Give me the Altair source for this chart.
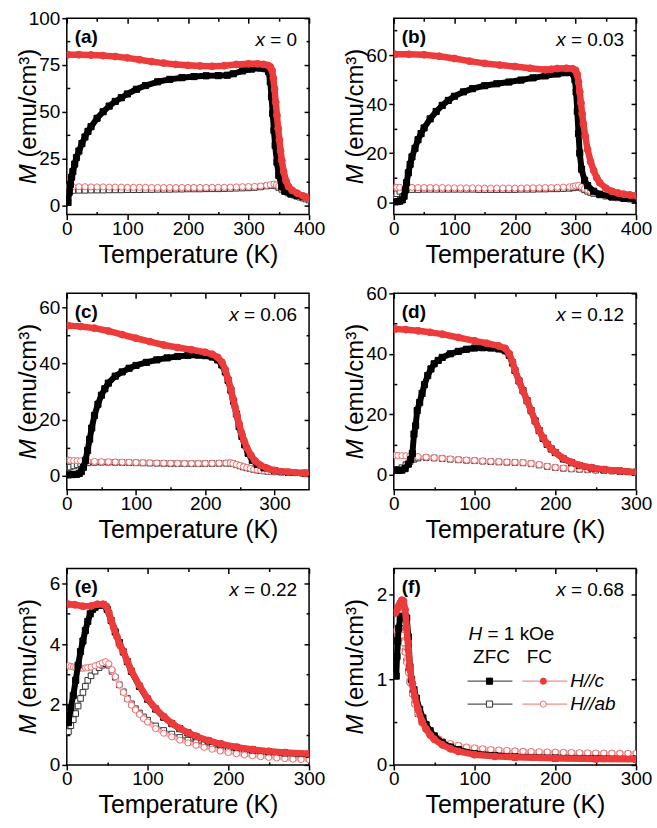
import altair as alt
import pandas as pd

FONT = "Liberation Sans"
W, H = 243, 197
RED = "#ec3b3b"
PINK = "#f06a6a"

# ---------------- data ----------------
# (a) x = 0
a_zfc_c_T = [2, 4, 6, 8, 10, 13, 16, 20, 25, 30, 35, 40, 50, 60, 70, 80, 90, 100, 115, 130, 150, 170, 190, 210, 230, 250, 265, 275, 290, 305, 320, 328, 333, 336, 338, 340, 342, 344, 347, 350, 355, 360, 370, 380, 390, 400]
a_zfc_c_M = [1.5, 7, 11, 15, 18, 22, 25.5, 29, 33, 36.5, 39.5, 42, 46.5, 50, 53, 55.5, 57.5, 59.5, 62, 64, 66, 67.3, 68.2, 68.8, 69.2, 69.3, 69.5, 70.3, 71.8, 72.8, 73.3, 73, 71.5, 66, 58, 49, 40, 32, 23, 16, 10, 7.5, 6, 5.2, 4.6, 4.2]
a_fc_c_T = [2, 20, 40, 60, 80, 100, 120, 140, 160, 180, 200, 220, 240, 260, 280, 300, 315, 325, 332, 336, 339, 341, 343, 345, 347, 349, 351, 353, 355, 358, 362, 366, 372, 380, 390, 400]
a_fc_c_M = [80.5, 80.5, 80.3, 80, 79.5, 78.8, 77.8, 76.8, 76, 75.3, 74.8, 74.5, 74.3, 74.6, 75.3, 75.6, 75.6, 75.3, 74.8, 74, 72, 68, 62, 55, 48, 41, 35, 29, 24, 18, 13, 10, 8, 6.5, 5, 3.8]
a_ab_T = [2, 5, 10, 20, 30, 40, 50, 60, 70, 80, 90, 100, 110, 120, 130, 140, 150, 160, 170, 180, 190, 200, 210, 220, 230, 240, 250, 260, 270, 280, 290, 300, 310, 320, 330, 336, 342, 346, 350, 355, 360, 365, 370, 375, 380, 385, 390, 395, 400]
a_zfc_ab_M = [7, 7.6, 7.9, 8, 8, 8.1, 8.1, 8.1, 8.2, 8.2, 8.2, 8.3, 8.3, 8.3, 8.4, 8.4, 8.5, 8.5, 8.5, 8.6, 8.6, 8.7, 8.7, 8.7, 8.8, 8.8, 8.8, 8.9, 9, 9.1, 9.2, 9.3, 9.5, 9.8, 10.3, 10.6, 10.8, 10.3, 9.5, 8.5, 7.5, 6.6, 6, 5.4, 4.8, 4.3, 3.8, 3.3, 2.8]
a_fc_ab_M = [10, 10, 9.9, 9.9, 9.9, 9.8, 9.8, 9.8, 9.7, 9.7, 9.7, 9.6, 9.6, 9.6, 9.6, 9.5, 9.5, 9.5, 9.5, 9.5, 9.5, 9.5, 9.5, 9.5, 9.5, 9.6, 9.6, 9.6, 9.7, 9.8, 9.9, 10, 10.1, 10.3, 10.7, 11, 11.3, 10.9, 10.2, 9.2, 8.3, 7.4, 6.7, 6, 5.4, 4.9, 4.4, 3.9, 3.5]

# (b) x = 0.03
b_zfc_c_T = [2, 6, 10, 14, 17, 19, 21, 24, 27, 30, 35, 40, 45, 50, 60, 70, 80, 90, 100, 115, 130, 150, 170, 190, 210, 230, 250, 270, 285, 293, 297, 299, 301, 303, 305, 307, 310, 315, 320, 330, 340, 360, 380, 400]
b_zfc_c_M = [0.2, 0.3, 0.5, 1, 2.5, 5, 8, 12, 15.5, 18.5, 22, 25.5, 28, 30.3, 34, 37, 39.5, 41.5, 43.2, 45, 46.3, 47.5, 48.3, 49, 49.8, 50.7, 51.5, 52.3, 52.8, 53, 52.3, 50, 45, 37, 28, 20, 13.5, 9, 6.8, 4.5, 3.3, 2.2, 1.6, 1.2]
b_fc_c_T = [2, 25, 50, 75, 100, 125, 150, 175, 200, 225, 250, 260, 270, 285, 295, 300, 303, 305, 307, 309, 311, 313, 316, 320, 325, 330, 335, 340, 350, 360, 370, 380, 390, 400]
b_fc_c_M = [60.3, 60.3, 60.1, 59.5, 58.6, 57.5, 56.6, 55.9, 55.3, 54.6, 54, 54.2, 54.5, 54.6, 54.4, 53.8, 52, 49, 45, 40.5, 36, 32, 27, 21.5, 16.5, 13, 10, 8, 5.8, 4.5, 3.8, 3.3, 3, 2.7]
b_ab_T = [2, 5, 10, 20, 30, 40, 50, 60, 70, 80, 90, 100, 110, 120, 130, 140, 150, 160, 170, 180, 190, 200, 210, 220, 230, 240, 250, 260, 270, 280, 290, 296, 300, 305, 310, 315, 320, 325, 330, 340, 350, 360, 370, 380, 390, 400]
b_zfc_ab_M = [2.5, 3.5, 4.5, 5.1, 5.2, 5.2, 5.3, 5.3, 5.3, 5.3, 5.3, 5.3, 5.3, 5.3, 5.3, 5.2, 5.2, 5.2, 5.2, 5.2, 5.2, 5.2, 5.3, 5.3, 5.3, 5.4, 5.4, 5.5, 5.5, 5.6, 5.7, 5.9, 6.1, 6.3, 5.8, 5.1, 4.5, 4, 3.6, 3, 2.5, 2.1, 1.8, 1.5, 1.3, 1.1]
b_fc_ab_M = [6.1, 6.1, 6.1, 6.1, 6.1, 6, 6, 6, 6, 6, 5.9, 5.9, 5.9, 5.9, 5.9, 5.8, 5.8, 5.8, 5.8, 5.8, 5.8, 5.8, 5.8, 5.9, 5.9, 5.9, 6, 6, 6.1, 6.2, 6.3, 6.5, 6.7, 6.9, 6.3, 5.6, 5, 4.5, 4, 3.3, 2.7, 2.3, 2, 1.7, 1.5, 1.4]

# (c) x = 0.06
c_zfc_c_T = [2, 8, 14, 18, 21, 24, 27, 30, 33, 36, 40, 45, 50, 55, 60, 70, 80, 90, 100, 115, 130, 145, 160, 175, 190, 200, 210, 218, 224, 229, 233, 237, 241, 245, 249, 253, 257, 262, 268, 275, 285, 300, 320, 345]
c_zfc_c_M = [0.3, 0.4, 0.5, 0.8, 1.5, 3, 5.5, 9, 13, 17, 21.5, 25.5, 28.7, 31, 33, 35.5, 37, 38.3, 39.3, 40.4, 41.3, 42, 42.5, 42.9, 43, 42.8, 42.3, 41.3, 39.5, 37, 34, 30.5, 26.5, 22, 17.5, 14, 11, 8, 5.5, 4, 2.8, 1.8, 1.2, 0.8]
c_fc_c_T = [2, 20, 40, 60, 80, 100, 120, 140, 160, 180, 200, 210, 218, 224, 229, 233, 237, 240, 243, 246, 249, 252, 256, 260, 266, 272, 280, 290, 300, 320, 345]
c_fc_c_M = [53.5, 53.2, 52.6, 51.6, 50.3, 49, 47.8, 46.6, 45.7, 44.9, 44, 43.3, 42.2, 40.5, 37.8, 34.5, 31, 27.5, 24.5, 21.5, 18.5, 15.5, 12.5, 10, 7.3, 5.3, 3.7, 2.6, 1.9, 1.3, 0.9]
c_ab_T = [2, 5, 10, 15, 20, 30, 40, 50, 60, 70, 80, 90, 100, 110, 120, 130, 140, 150, 160, 170, 180, 190, 200, 210, 220, 230, 236, 240, 245, 250, 255, 260, 265, 270, 275, 280, 285, 290, 295, 300, 310, 320, 330, 340, 345]
c_zfc_ab_M = [2.8, 3.1, 3.5, 3.9, 4.3, 4.6, 4.75, 4.8, 4.8, 4.75, 4.7, 4.65, 4.6, 4.55, 4.5, 4.45, 4.4, 4.35, 4.32, 4.3, 4.3, 4.3, 4.32, 4.35, 4.4, 4.45, 4.5, 4.3, 3.9, 3.5, 3.1, 2.8, 2.5, 2.25, 2, 1.85, 1.7, 1.58, 1.48, 1.38, 1.25, 1.15, 1.05, 0.95, 0.95]
c_fc_ab_M = [5.6, 5.5, 5.4, 5.35, 5.3, 5.2, 5.1, 5, 4.95, 4.9, 4.85, 4.8, 4.7, 4.65, 4.6, 4.55, 4.5, 4.45, 4.42, 4.4, 4.4, 4.4, 4.42, 4.45, 4.5, 4.55, 4.6, 4.4, 4, 3.6, 3.2, 2.9, 2.6, 2.35, 2.1, 1.95, 1.8, 1.65, 1.55, 1.45, 1.3, 1.2, 1.1, 1, 1]

# (d) x = 0.12
d_zfc_c_T = [2, 6, 10, 14, 18, 21, 23, 25, 27, 29, 32, 35, 38, 42, 46, 50, 55, 60, 70, 80, 90, 100, 110, 120, 130, 138, 143, 147, 150, 155, 160, 165, 170, 175, 180, 185, 190, 195, 200, 210, 220, 230, 245, 260, 280, 300]
d_zfc_c_M = [1.5, 1.4, 1.5, 2, 3.5, 5, 7, 13.4, 16.2, 21.2, 23.9, 26.9, 29.8, 32.8, 35, 36.7, 37.8, 38.8, 40, 40.8, 41.5, 41.9, 42, 41.9, 41.6, 41, 39.5, 37, 34.5, 31, 27.8, 24.5, 21.2, 17.8, 14.6, 12, 10, 8.5, 7.3, 5.2, 4, 3, 2.2, 1.7, 1.2, 0.8]
d_fc_c_T = [2, 15, 30, 45, 60, 80, 100, 115, 130, 138, 143, 147, 150, 155, 160, 165, 170, 175, 180, 185, 190, 195, 200, 210, 220, 230, 245, 260, 280, 300]
d_fc_c_M = [48.2, 48, 47.6, 47.1, 46.5, 45.4, 44.3, 43.5, 42.6, 41.8, 40, 37.3, 34.6, 31, 27.8, 24.5, 21.2, 17.8, 14.6, 12.2, 10.1, 8.6, 7.4, 5.4, 4.1, 3.1, 2.3, 1.7, 1.2, 0.8]
d_ab_T = [2, 5, 10, 15, 20, 25, 30, 40, 50, 60, 70, 80, 90, 100, 110, 120, 130, 140, 150, 160, 170, 180, 190, 200, 210, 220, 230, 240, 250, 260, 270, 280, 290, 300]
d_zfc_ab_M = [1.5, 1.7, 2.3, 3.3, 4.3, 5.1, 5.5, 5.6, 5.5, 5.3, 5.1, 4.9, 4.75, 4.6, 4.45, 4.3, 4.2, 4.1, 4, 3.9, 3.6, 3.2, 2.7, 2.3, 2.1, 1.9, 1.75, 1.6, 1.5, 1.35, 1.2, 1.05, 0.9, 0.8]
d_fc_ab_M = [6.4, 6.35, 6.3, 6.25, 6.2, 6.1, 6, 5.8, 5.6, 5.4, 5.2, 5, 4.85, 4.7, 4.55, 4.4, 4.3, 4.2, 4.1, 4, 3.7, 3.3, 2.8, 2.4, 2.2, 2, 1.85, 1.7, 1.6, 1.45, 1.3, 1.15, 1, 0.9]

# (e) x = 0.22
e_zfc_c_T = [2, 5, 8, 11, 14, 17, 20, 23, 26, 29, 32, 35, 40, 45, 50, 55, 60, 65, 70, 75, 80, 90, 100, 110, 120, 130, 140, 150, 160, 175, 190, 210, 230, 250, 270, 300]
e_zfc_c_M = [1.4, 1.9, 2.3, 2.8, 3.3, 3.75, 4.1, 4.45, 4.75, 5, 5.15, 5.22, 5.28, 5.3, 5.15, 4.78, 4.4, 4.05, 3.74, 3.42, 3.1, 2.6, 2.18, 1.85, 1.58, 1.37, 1.2, 1.06, 0.94, 0.8, 0.69, 0.58, 0.5, 0.44, 0.4, 0.35]
e_fc_c_T = [2, 10, 20, 30, 38, 45, 49, 52, 55, 58, 62, 66, 70, 75, 80, 90, 100, 110, 120, 130, 140, 150, 160, 175, 190, 210, 230, 250, 270, 300]
e_fc_c_M = [5.32, 5.3, 5.25, 5.26, 5.32, 5.32, 5.25, 5.05, 4.8, 4.55, 4.25, 3.95, 3.75, 3.43, 3.12, 2.63, 2.2, 1.87, 1.6, 1.38, 1.21, 1.07, 0.95, 0.81, 0.7, 0.59, 0.51, 0.45, 0.41, 0.37]
e_ab_T = [2, 5, 8, 11, 14, 17, 20, 23, 26, 30, 35, 40, 44, 48, 52, 56, 60, 65, 70, 75, 80, 85, 90, 95, 100, 110, 120, 130, 140, 150, 160, 170, 180, 190, 200, 210, 220, 230, 240, 250, 260, 270, 280, 290, 300]
e_zfc_ab_M = [1.1, 1.3, 1.5, 1.7, 1.95, 2.2, 2.4, 2.6, 2.8, 2.95, 3.1, 3.22, 3.3, 3.35, 3.3, 3.1, 2.9, 2.65, 2.42, 2.2, 2.02, 1.86, 1.72, 1.59, 1.48, 1.29, 1.14, 1.02, 0.91, 0.82, 0.74, 0.67, 0.61, 0.55, 0.5, 0.46, 0.42, 0.38, 0.35, 0.32, 0.3, 0.27, 0.25, 0.23, 0.21]
e_fc_ab_M = [3.28, 3.26, 3.24, 3.22, 3.21, 3.2, 3.2, 3.21, 3.22, 3.24, 3.28, 3.33, 3.38, 3.42, 3.35, 3.15, 2.92, 2.65, 2.4, 2.18, 1.98, 1.82, 1.67, 1.53, 1.42, 1.2, 1.05, 0.93, 0.82, 0.73, 0.65, 0.58, 0.52, 0.46, 0.41, 0.37, 0.33, 0.3, 0.27, 0.25, 0.23, 0.21, 0.19, 0.18, 0.17]

# (f) x = 0.68
f_zfc_c_T = [3, 4, 5, 6, 8, 10, 12, 14, 16, 18, 20, 22, 25, 28, 32, 36, 40, 45, 50, 60, 70, 80, 100, 125, 150, 200, 250, 300]
f_zfc_c_M = [1.04, 1.27, 1.45, 1.6, 1.72, 1.74, 1.74, 1.74, 1.72, 1.5, 1.15, 1.0, 0.88, 0.78, 0.65, 0.55, 0.47, 0.4, 0.34, 0.26, 0.21, 0.18, 0.13, 0.11, 0.095, 0.08, 0.075, 0.07]
f_fc_c_T = [2, 4, 6, 8, 10, 12, 14, 16, 18, 20, 23, 26, 30, 35, 40, 45, 50, 60, 70, 80, 100, 125, 150, 200, 250, 300]
f_fc_c_M = [1.78, 1.82, 1.86, 1.9, 1.93, 1.92, 1.82, 1.6, 1.35, 1.12, 0.95, 0.8, 0.65, 0.51, 0.42, 0.35, 0.3, 0.235, 0.19, 0.158, 0.12, 0.1, 0.09, 0.078, 0.07, 0.066]
f_ab_T = [2, 4, 6, 8, 10, 12, 14, 16, 18, 20, 23, 26, 30, 35, 40, 45, 50, 55, 60, 70, 80, 90, 100, 110, 120, 130, 140, 150, 160, 170, 180, 190, 200, 210, 220, 230, 240, 250, 260, 270, 280, 290, 300]
f_zfc_ab_M = [1.05, 1.38, 1.55, 1.6, 1.55, 1.45, 1.33, 1.22, 1.1, 0.98, 0.84, 0.72, 0.6, 0.5, 0.43, 0.37, 0.33, 0.3, 0.27, 0.24, 0.22, 0.2, 0.19, 0.18, 0.17, 0.165, 0.16, 0.155, 0.15, 0.148, 0.145, 0.142, 0.14, 0.138, 0.136, 0.134, 0.132, 0.13, 0.129, 0.128, 0.127, 0.126, 0.125]
f_fc_ab_M = [1.57, 1.57, 1.57, 1.56, 1.52, 1.43, 1.32, 1.2, 1.08, 0.96, 0.83, 0.71, 0.6, 0.5, 0.43, 0.38, 0.34, 0.31, 0.28, 0.25, 0.23, 0.21, 0.2, 0.19, 0.18, 0.175, 0.17, 0.165, 0.16, 0.157, 0.155, 0.152, 0.15, 0.148, 0.146, 0.144, 0.142, 0.14, 0.139, 0.138, 0.137, 0.136, 0.135]

# ---------------- helpers ----------------
ONE = pd.DataFrame({"k": [0]})
CW = {"x": .5, " ": .278, "=": .584, ".": .278, "H": .722, "M": .833}
for _d in "0123456789":
    CW[_d] = .556


def tw(s, fs):
    return sum(CW.get(ch, .556) for ch in s) * fs


def txt(text, x, y, size=19, italic=False, bold=False, align="left",
        baseline="alphabetic", angle=None, color="black"):
    kw = dict(text=text, font=FONT, fontSize=size, align=align,
              baseline=baseline, color=color)
    if italic:
        kw["fontStyle"] = "italic"
    if bold:
        kw["fontWeight"] = "bold"
    if angle is not None:
        kw["angle"] = angle
    return alt.Chart(ONE).mark_text(**kw).encode(x=alt.value(x), y=alt.value(y))


STYLE = {
    "zfc_ab": dict(shape="square", fill="white", stroke="#333333", line="#a0a0a0", lw=3.5, size=32),
    "fc_ab": dict(shape="circle", fill="white", stroke=PINK, line="#f7b5b5", lw=4, size=38),
    "zfc_c": dict(shape="square", fill="black", stroke="black", line="black", lw=6, size=38),
    "fc_c": dict(shape="circle", fill=RED, stroke=RED, line=RED, lw=6.5, size=48),
}


def panel(series, xdom, xmaj, xmin, ydom, ymaj, ymin, label, xval, legend=False):
    xs = alt.Scale(domain=xdom, nice=False, zero=False)
    ys = alt.Scale(domain=ydom, nice=False, zero=False)
    layers = []
    for key in ["zfc_ab", "fc_ab", "zfc_c", "fc_c"]:
        T, M = series[key]
        df = pd.DataFrame({"T": T, "M": M})
        st = STYLE[key]
        enc = dict(x=alt.X("T:Q", scale=xs, axis=None), y=alt.Y("M:Q", scale=ys, axis=None))
        layers.append(alt.Chart(df).mark_line(color=st["line"], strokeWidth=st["lw"],
                                              strokeCap="round", strokeJoin="round", clip=True).encode(**enc))
        layers.append(alt.Chart(df).mark_point(shape=st["shape"], filled=True, fill=st["fill"],
                                               stroke=st["stroke"], strokeWidth=1, size=st["size"],
                                               opacity=1, clip=True).encode(**enc))

    ref = pd.DataFrame({"T": series["fc_c"][0], "M": series["fc_c"][1]})

    def axl(xa, ya):
        return alt.Chart(ref).mark_point(opacity=0).encode(
            x=alt.X("T:Q", scale=xs, axis=xa), y=alt.Y("M:Q", scale=ys, axis=ya))

    main = axl(
        alt.Axis(orient="bottom", values=xmaj, tickSize=5, labelPadding=0, labelFlush=False,
                 title="Temperature (K)", titleX=W / 2, titleY=48, titleBaseline="alphabetic",
                 titleAlign="center"),
        alt.Axis(orient="left", values=ymaj, tickSize=5, labelPadding=2, labelFlush=False,
                 title=None))
    minor_in = axl(
        alt.Axis(orient="bottom", values=xmin, tickSize=3, offset=-3, labels=False, title=None),
        alt.Axis(orient="left", values=ymin, tickSize=3, offset=-3, labels=False, title=None))
    top_right = axl(
        alt.Axis(orient="top", values=xmaj, tickSize=5, offset=-5, labels=False, title=None),
        alt.Axis(orient="right", values=ymaj, tickSize=5, offset=-5, labels=False, title=None))
    top_right_min = axl(
        alt.Axis(orient="top", values=xmin, tickSize=3, offset=-3, labels=False, title=None),
        alt.Axis(orient="right", values=ymin, tickSize=3, offset=-3, labels=False, title=None))
    layers += [main, minor_in, top_right, top_right_min]

    # invisible spacer so every row reserves the same room above its frame
    layers.append(alt.Chart(ONE).mark_rule(color="white", strokeWidth=1).encode(
        x=alt.value(0), x2=alt.value(1), y=alt.value(-10)))

    # y axis title: italic M + " (emu/cm³)"  (leading space given as an offset)
    fs = 24
    L = (0.833 + 4.833) * fs
    y0 = H / 2 + L / 2
    layers.append(txt("M", -31, y0, size=fs, italic=True, angle=270))
    layers.append(txt("(emu/cm\u00b3)", -31, y0 - (0.833 + 0.278) * fs, size=fs, angle=270))

    # panel label and composition
    layers.append(txt(label, 8, 25, size=19, bold=True))
    rest = "= " + xval
    layers.append(txt(rest, W - 12, 28, size=19, align="right"))
    layers.append(txt("x", W - 12 - tw(" " + rest, 19), 28, size=19, italic=True, align="right"))

    if legend:
        layers.append(txt("H", 75, 72, italic=True))
        layers.append(txt("= 1 kOe", 75 + (0.722 + 0.278) * 19, 72))
        layers.append(txt("ZFC", 98, 95, align="center"))
        layers.append(txt("FC", 146, 95, align="center"))
        for yy, zst, fst, lab in [(113, "zfc_c", "fc_c", "H//c"), (136, "zfc_ab", "fc_ab", "H//ab")]:
            layers.append(alt.Chart(ONE).mark_rule(color="#555555", strokeWidth=1.2).encode(
                x=alt.value(74), x2=alt.value(119), y=alt.value(yy)))
            layers.append(alt.Chart(ONE).mark_rule(color="#f28c8c", strokeWidth=1.2).encode(
                x=alt.value(129), x2=alt.value(174), y=alt.value(yy)))
            for cx, key in [(96, zst), (150, fst)]:
                st = STYLE[key]
                layers.append(alt.Chart(ONE).mark_point(
                    shape=st["shape"], filled=True, fill=st["fill"], stroke=st["stroke"],
                    strokeWidth=1, size=38, opacity=1).encode(x=alt.value(cx), y=alt.value(yy)))
            layers.append(txt(lab, 177, yy, italic=True, baseline="middle"))

    return alt.layer(*layers).resolve_axis(x="independent", y="independent").properties(width=W, height=H)


pa = panel({"zfc_c": (a_zfc_c_T, a_zfc_c_M), "fc_c": (a_fc_c_T, a_fc_c_M),
            "zfc_ab": (a_ab_T, a_zfc_ab_M), "fc_ab": (a_ab_T, a_fc_ab_M)},
           [0, 400], [0, 100, 200, 300, 400], [50, 150, 250, 350],
           [-5, 100], [0, 25, 50, 75, 100], [12.5, 37.5, 62.5, 87.5], "(a)", "0")
pb = panel({"zfc_c": (b_zfc_c_T, b_zfc_c_M), "fc_c": (b_fc_c_T, b_fc_c_M),
            "zfc_ab": (b_ab_T, b_zfc_ab_M), "fc_ab": (b_ab_T, b_fc_ab_M)},
           [0, 400], [0, 100, 200, 300, 400], [50, 150, 250, 350],
           [-5, 75], [0, 20, 40, 60], [10, 30, 50, 70], "(b)", "0.03")
pc = panel({"zfc_c": (c_zfc_c_T, c_zfc_c_M), "fc_c": (c_fc_c_T, c_fc_c_M),
            "zfc_ab": (c_ab_T, c_zfc_ab_M), "fc_ab": (c_ab_T, c_fc_ab_M)},
           [0, 350], [0, 100, 200, 300], [50, 150, 250],
           [-5, 65], [0, 20, 40, 60], [10, 30, 50], "(c)", "0.06")
pd_ = panel({"zfc_c": (d_zfc_c_T, d_zfc_c_M), "fc_c": (d_fc_c_T, d_fc_c_M),
             "zfc_ab": (d_ab_T, d_zfc_ab_M), "fc_ab": (d_ab_T, d_fc_ab_M)},
            [0, 300], [0, 100, 200, 300], [50, 150, 250],
            [-5, 60], [0, 20, 40, 60], [10, 30, 50], "(d)", "0.12")
pe = panel({"zfc_c": (e_zfc_c_T, e_zfc_c_M), "fc_c": (e_fc_c_T, e_fc_c_M),
            "zfc_ab": (e_ab_T, e_zfc_ab_M), "fc_ab": (e_ab_T, e_fc_ab_M)},
           [0, 300], [0, 100, 200, 300], [50, 150, 250],
           [0, 6.5], [0, 2, 4, 6], [1, 3, 5], "(e)", "0.22")
pf = panel({"zfc_c": (f_zfc_c_T, f_zfc_c_M), "fc_c": (f_fc_c_T, f_fc_c_M),
            "zfc_ab": (f_ab_T, f_zfc_ab_M), "fc_ab": (f_ab_T, f_fc_ab_M)},
           [0, 300], [0, 100, 200, 300], [50, 150, 250],
           [0, 2.3], [0, 1, 2], [0.5, 1.5], "(f)", "0.68", legend=True)

chart = alt.concat(pa, pb, pc, pd_, pe, pf, columns=2, spacing={"row": 13, "column": 17}).configure_view(
    stroke="black", strokeWidth=1.5
).configure_axis(
    labelFont=FONT, labelFontSize=19, labelColor="black", tickColor="black", tickWidth=1.5,
    grid=False, domain=False, titleFont=FONT, titleFontSize=25, titleFontWeight="normal",
    titleColor="black"
).properties(
    padding={"left": 16, "top": 5, "right": 4, "bottom": 4}, background="white"
)

chart.save("out.html", embed_options={"renderer": "svg", "actions": False})
